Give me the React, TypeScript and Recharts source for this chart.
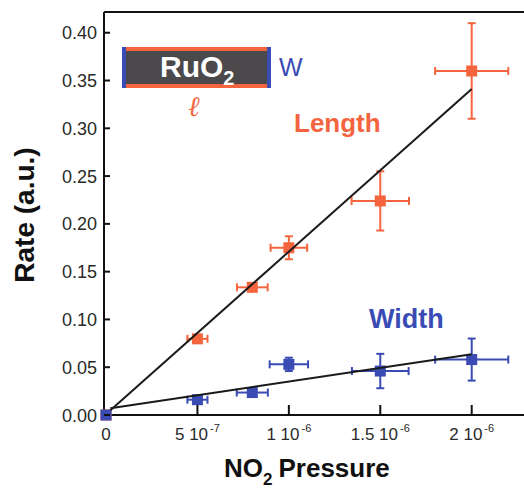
import { ScatterChart, Scatter, XAxis, YAxis, ErrorBar, ReferenceLine } from "recharts";

const pressure = [0, 5e-7, 8e-7, 1e-6, 1.5e-6, 2e-6];
const lengthRate = [0, 0.0797, 0.1336, 0.175, 0.224, 0.36];
const lengthErrX = [0, 0.055e-6, 0.084e-6, 0.1e-6, 0.157e-6, 0.2e-6];
const lengthErrY = [0, 0.003, 0.004, 0.012, 0.031, 0.05];
const widthRate = [0, 0.016, 0.0235, 0.053, 0.046, 0.058];
const widthErrX = [0, 0.055e-6, 0.085e-6, 0.105e-6, 0.155e-6, 0.2e-6];
const widthErrY = [0, 0.003, 0.003, 0.007, 0.018, 0.022];

// fitted straight lines (end points)
const fitPressure = [0.024e-6, 2e-6];
const lengthFit = [0.005, 0.341];
const widthFit = [0.007, 0.0635];

const xTicks = [0, 5e-7, 1e-6, 1.5e-6, 2e-6];
const xTickLabels = [["0", ""], ["5 10", "-7"], ["1 10", "-6"], ["1.5 10", "-6"], ["2 10", "-6"]];
const yTicks = [0, 0.05, 0.1, 0.15, 0.2, 0.25, 0.3, 0.35, 0.4];

const X_DOMAIN: [number, number] = [-0.011e-6, 2.286e-6];
const Y_MAX = 0.4217;

const RED = "#F4653F";
const BLUE = "#3A4BB4";
const FONT = "'Liberation Sans', Arial, sans-serif";

const lengthData = pressure.map((p, i) => ({ x: p, y: lengthRate[i], ex: lengthErrX[i], ey: lengthErrY[i] }));
const widthData = pressure.map((p, i) => ({ x: p, y: widthRate[i], ex: widthErrX[i], ey: widthErrY[i] }));
const lengthFitData = fitPressure.map((p, i) => ({ x: p, y: lengthFit[i] }));
const widthFitData = fitPressure.map((p, i) => ({ x: p, y: widthFit[i] }));

const square = (color: string) => (props: any) => (
  <rect x={props.cx - 5.5} y={props.cy - 5.5} width={11} height={11} fill={color} />
);

function YTick(props: any) {
  const { x, y, payload } = props;
  return (
    <g>
      <line x1={x + 7} x2={x + 13} y1={y} y2={y} stroke="#111" strokeWidth={2} />
      <text x={x} y={y + 6.5} textAnchor="end" fontSize={18} fontFamily={FONT} fill="#2a2a2a">
        {payload.value.toFixed(2)}
      </text>
    </g>
  );
}

function XTick(props: any) {
  const { x, y, payload, index } = props;
  const [main, sup] = xTickLabels[index] ?? [String(payload.value), ""];
  return (
    <g>
      {index > 0 && <line x1={x} x2={x} y1={y - 13} y2={y - 23} stroke="#111" strokeWidth={2} />}
      <text x={x} y={y + 12} textAnchor="middle" fontSize={17} fontFamily={FONT} fill="#2a2a2a">
        {main}
        {sup && (
          <tspan fontSize={11} dy={-8} dx={2}>
            {sup}
          </tspan>
        )}
      </text>
    </g>
  );
}

export default function App() {
  return (
    <div style={{ position: "absolute", left: 0, top: 0, width: 524, height: 492, background: "#fff" }}>
      <ScatterChart width={524} height={492} margin={{ top: 12, right: 0, bottom: 0, left: 0 }}>
        <XAxis
          type="number"
          dataKey="x"
          domain={X_DOMAIN}
          ticks={xTicks}
          tick={<XTick />}
          tickSize={0}
          tickMargin={13}
          height={77}
          axisLine={{ stroke: "#111", strokeWidth: 2 }}
        />
        <YAxis
          type="number"
          dataKey="y"
          domain={[0, Y_MAX]}
          ticks={yTicks}
          tick={<YTick />}
          tickSize={0}
          tickMargin={7}
          width={104}
          axisLine={{ stroke: "#111", strokeWidth: 2 }}
        />
        <ReferenceLine y={Y_MAX} stroke="#111" strokeWidth={2} />
        <Scatter data={lengthData} fill={RED} shape={square(RED)} isAnimationActive={false}>
          <ErrorBar dataKey="ex" direction="x" width={4} stroke={RED} strokeWidth={2} />
          <ErrorBar dataKey="ey" direction="y" width={4} stroke={RED} strokeWidth={2} />
        </Scatter>
        <Scatter data={widthData} fill={BLUE} shape={square(BLUE)} isAnimationActive={false}>
          <ErrorBar dataKey="ex" direction="x" width={4} stroke={BLUE} strokeWidth={2} />
          <ErrorBar dataKey="ey" direction="y" width={4} stroke={BLUE} strokeWidth={2} />
        </Scatter>
        <Scatter
          data={lengthFitData}
          line={{ stroke: "#1a1a1a", strokeWidth: 2 }}
          shape={() => <g />}
          isAnimationActive={false}
        />
        <Scatter
          data={widthFitData}
          line={{ stroke: "#1a1a1a", strokeWidth: 2 }}
          shape={() => <g />}
          isAnimationActive={false}
        />
      </ScatterChart>
      <svg
        width={524}
        height={492}
        style={{ position: "absolute", left: 0, top: 0, pointerEvents: "none" }}
        fontFamily={FONT}
      >
        <rect x={122} y={47} width={149} height={41} fill="#4b494b" />
        <rect x={122} y={47} width={149} height={4} fill={RED} />
        <rect x={122} y={84} width={149} height={4} fill={RED} />
        <rect x={122} y={47} width={4} height={41} fill={BLUE} />
        <rect x={267} y={47} width={4} height={41} fill={BLUE} />
        <text x={160} y={77} fontSize={30} fontWeight="bold" fill="#fff">
          RuO
          <tspan fontSize={20} dy={8}>2</tspan>
        </text>
        <text x={279} y={76} fontSize={25} fill={BLUE}>W</text>
        <text x={188} y={116} fontSize={28} fontStyle="italic" fontFamily="'DejaVu Serif', serif" fill={RED}>
          ℓ
        </text>
        <text x={294} y={132} fontSize={26} fontWeight="bold" fill={RED}>Length</text>
        <text x={369} y={328} fontSize={27} fontWeight="bold" fill={BLUE}>Width</text>
        <text
          transform="translate(34 215) rotate(-90)"
          textAnchor="middle"
          fontSize={28}
          fontWeight="bold"
          fill="#111"
        >
          Rate (a.u.)
        </text>
        <text x={224} y={477} fontSize={26} fontWeight="bold" fill="#111">
          NO
          <tspan fontSize={17} dy={8}>2</tspan>
          <tspan dy={-8} dx={6}>Pressure</tspan>
        </text>
      </svg>
    </div>
  );
}
